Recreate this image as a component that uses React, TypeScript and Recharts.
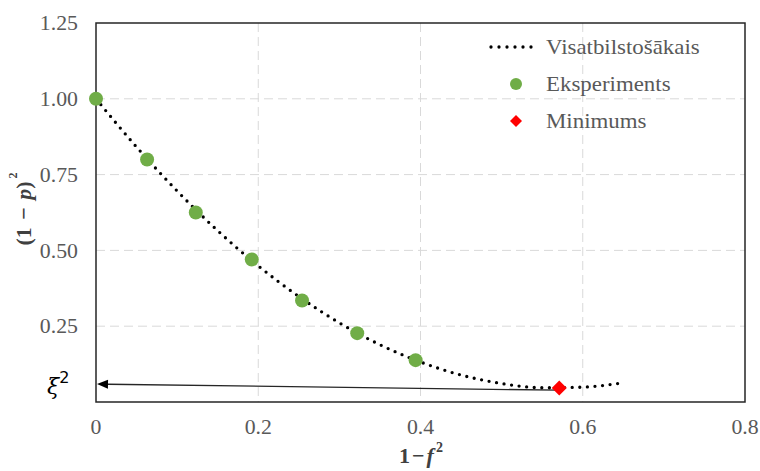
import { ComposedChart, Line, Scatter, XAxis, YAxis, CartesianGrid, ReferenceLine, ReferenceArea, Legend } from 'recharts';

// fitted curve
const fitX = [0, 0.05, 0.1, 0.15, 0.2, 0.25, 0.3, 0.35, 0.4, 0.45, 0.5, 0.55, 0.6, 0.646];
const fitY = [1.0, 0.841, 0.696, 0.565, 0.449, 0.348, 0.261, 0.189, 0.132, 0.089, 0.061, 0.047, 0.049, 0.062];

// measured points
const expX = [0, 0.063, 0.123, 0.192, 0.254, 0.322, 0.394];
const expY = [1.0, 0.8, 0.625, 0.47, 0.335, 0.227, 0.138];

const minX = [0.571];
const minY = [0.046];

// arrow from the minimum to the y axis
const arrowX = [0.571, 0];
const arrowY = [0.039, 0.059];

const xTicks = [0, 0.2, 0.4, 0.6, 0.8];
const yTicks = [0.25, 0.5, 0.75, 1.0, 1.25];

const fitData = fitX.map((x, i) => ({ x, y: fitY[i] }));
const expData = expX.map((x, i) => ({ x, y: expY[i] }));
const minData = minX.map((x, i) => ({ x, y: minY[i] }));

const SERIF = 'Liberation Serif, Times New Roman, serif';
const TEXT = '#595959';
const LABEL = '#404040';
const STRETCH = 1.09; // the original text is a bit wider than Times

const Diamond = (props: any) => {
  const { cx, cy } = props;
  const r = 7.5;
  return <polygon points={`${cx},${cy - r} ${cx + r},${cy} ${cx},${cy + r} ${cx - r},${cy}`} fill="#ff0000" />;
};

const Dot = (props: any) => <circle cx={props.cx} cy={props.cy} r={7} fill="#70ad47" />;

const YTick = (props: any) => {
  const { x, y, payload } = props;
  return (
    <text transform={`translate(${x},${y}) scale(${STRETCH},1)`} textAnchor="end" dy="0.355em"
      fontFamily={SERIF} fontSize={20} fill={TEXT}>
      {payload.value.toFixed(2)}
    </text>
  );
};

const XTick = (props: any) => {
  const { x, y, payload } = props;
  return (
    <text transform={`translate(${x},${y}) scale(${STRETCH},1)`} textAnchor="middle" dy="0.71em"
      fontFamily={SERIF} fontSize={20} fill={TEXT}>
      {payload.value === 0 ? '0' : String(payload.value)}
    </text>
  );
};

const Arrow = (props: any) => {
  const { x1, y1, x2, y2 } = props;
  // tip is the left end
  const tipX = Math.min(x1, x2) + 1;
  const tipY = x1 < x2 ? y1 : y2;
  const tailX = Math.max(x1, x2);
  const tailY = x1 < x2 ? y2 : y1;
  const ang = Math.atan2(tipY - tailY, tipX - tailX);
  const len = 11;
  const w = 4.5;
  const bx = tipX - len * Math.cos(ang);
  const by = tipY - len * Math.sin(ang);
  const px = -Math.sin(ang) * w;
  const py = Math.cos(ang) * w;
  return (
    <g>
      <line x1={tailX} y1={tailY} x2={bx} y2={by} stroke="#262626" strokeWidth={1.3} />
      <polygon points={`${tipX},${tipY} ${bx + px},${by + py} ${bx - px},${by - py}`} fill="#000" />
      <text x={tipX - 50} y={tipY + 2} dominantBaseline="central"
        fontFamily="DejaVu Serif, serif" fontSize={22} fill="#000">
        <tspan fontStyle="italic">ξ</tspan>
        <tspan dy={-9} fontSize={16} fontFamily="DejaVu Sans, sans-serif">2</tspan>
      </text>
    </g>
  );
};

const LegendText = ({ y, children }: { y: number; children: string }) => (
  <text transform={`translate(66,${y}) scale(${STRETCH},1)`} dominantBaseline="central"
    fontFamily={SERIF} fontSize={21} fill={TEXT}>{children}</text>
);

const LegendBox = () => (
  <svg width={280} height={115} style={{ display: 'block' }}>
    <line x1={11} y1={22} x2={57} y2={22} stroke="#000" strokeWidth={3.3}
      strokeDasharray="0 8" strokeLinecap="round" />
    <LegendText y={22}>Visatbilstošākais</LegendText>
    <circle cx={36} cy={59} r={6} fill="#70ad47" />
    <LegendText y={59}>Eksperiments</LegendText>
    <polygon points="36,90 42,96 36,102 30,96" fill="#ff0000" />
    <LegendText y={96}>Minimums</LegendText>
  </svg>
);

export default function App() {
  return (
    <div style={{ position: 'absolute', left: 0, top: 0, background: '#fff' }}>
      <ComposedChart width={760} height={471} margin={{ top: 23, right: 15, left: 36, bottom: 29 }}>
        <CartesianGrid stroke="#d9d9d9" strokeDasharray="9 5" horizontalValues={[0.25, 0.5, 0.75, 1.0]}
          verticalValues={[0.2, 0.4, 0.6]} />
        <XAxis type="number" dataKey="x" domain={[0, 0.8]} ticks={xTicks}
          tick={<XTick />} tickLine={false} axisLine={false} tickSize={6} tickMargin={12} height={40}
          label={{
            content: () => (
              <text x={421} y={455} textAnchor="middle" dominantBaseline="central" fontFamily={SERIF}
                fontSize={22} fontWeight="bold" fill={LABEL}>
                1<tspan dx={2}>−</tspan><tspan dx={2} fontStyle="italic">f</tspan>
                <tspan dx={2} dy={-8} fontSize={14}>2</tspan>
              </text>
            ),
          }} />
        <YAxis type="number" dataKey="y" domain={[0, 1.25]} ticks={yTicks}
          tick={<YTick />} tickLine={false} axisLine={false} tickSize={6} tickMargin={12} width={60}
          label={{
            content: () => (
              <text x={23} y={209} transform="rotate(-90, 23, 209)" textAnchor="middle" dominantBaseline="central"
                fontFamily={SERIF} fontSize={22} fontWeight="bold" fill={LABEL}>
                (1 <tspan dx={2}>−</tspan><tspan dx={2} fontStyle="italic"> p</tspan>)
                <tspan dx={3} dy={-10} fontSize={12}>2</tspan>
              </text>
            ),
          }} />
        <ReferenceArea x1={0} x2={0.8} y1={0} y2={1.25} fill="none" stroke="#262626" strokeWidth={1.5}
          fillOpacity={0} />
        <ReferenceLine segment={[{ x: arrowX[0], y: arrowY[0] }, { x: arrowX[1], y: arrowY[1] }]}
          shape={Arrow} />
        <Line data={fitData} dataKey="y" type="monotone" stroke="#000" strokeWidth={3.3}
          strokeDasharray="0 7.6" strokeLinecap="round" dot={false} activeDot={false}
          isAnimationActive={false} legendType="none" />
        <Scatter data={expData} dataKey="y" fill="#70ad47" shape={Dot} isAnimationActive={false} />
        <Scatter data={minData} dataKey="y" shape={Diamond} isAnimationActive={false} />
        <Legend content={LegendBox}
          wrapperStyle={{ position: 'absolute', left: 480, top: 25, width: 280, height: 0, overflow: 'visible' }} />
      </ComposedChart>
    </div>
  );
}
